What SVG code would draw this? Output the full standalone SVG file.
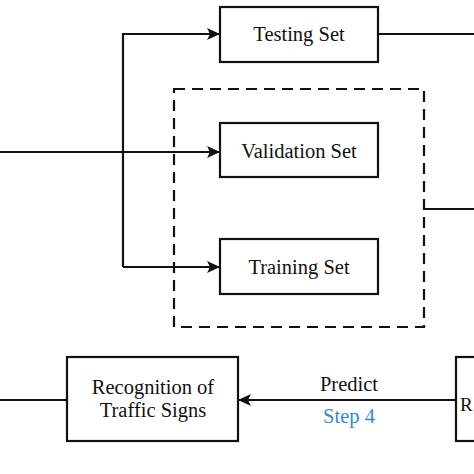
<svg xmlns="http://www.w3.org/2000/svg" width="474" height="474" viewBox="0 0 474 474">
<style>
.box{fill:#fff;stroke:#111;stroke-width:2.2}
.ln{fill:none;stroke:#111;stroke-width:2.2}
.dash{fill:none;stroke:#111;stroke-width:2.2;stroke-dasharray:11,7}
text{font-family:"Liberation Serif","Times New Roman",serif;font-size:20.5px;fill:#111;text-anchor:middle}
.blue{fill:#3a88d2}
</style>
<defs>
<marker id="ah" markerWidth="13" markerHeight="12" refX="12" refY="6" orient="auto" markerUnits="userSpaceOnUse">
<path d="M0,0 L13,6 L0,12 L3,6 Z" fill="#111"/>
</marker>
</defs>
<rect width="474" height="474" fill="#fff"/>
<g id="connectors">
<path class="ln" d="M123,267 V34 H219" marker-end="url(#ah)"/>
<path class="ln" d="M0,152 H219" marker-end="url(#ah)"/>
<path class="ln" d="M123,267 H219" marker-end="url(#ah)"/>
<path class="ln" d="M378,34 H474"/>
<path class="ln" d="M424,209 H474"/>
<path class="ln" d="M456,400 H239" marker-end="url(#ah)"/>
<path class="ln" d="M0,400 H67"/>
<text x="349" y="391">Predict</text>
<text x="349" y="423" class="blue">Step 4</text>
</g>
<g id="group-dashed">
<rect class="dash" x="174" y="89" width="250" height="238"/>
</g>
<g id="testing">
<rect class="box" x="220" y="7" width="158" height="55"/>
<text x="299" y="41">Testing Set</text>
</g>
<g id="validation">
<rect class="box" x="220" y="123" width="158" height="54"/>
<text x="299" y="158">Validation Set</text>
</g>
<g id="training">
<rect class="box" x="220" y="239" width="158" height="55"/>
<text x="299" y="274">Training Set</text>
</g>
<g id="recognition">
<rect class="box" x="67" y="357" width="171" height="84"/>
<text x="153" y="394">Recognition of</text>
<text x="153" y="417">Traffic Signs</text>
</g>
<g id="right-node">
<rect class="box" x="456" y="357" width="40" height="84"/>
<text x="460" y="411" style="text-anchor:start;font-size:19px">R</text>
</g>
</svg>
